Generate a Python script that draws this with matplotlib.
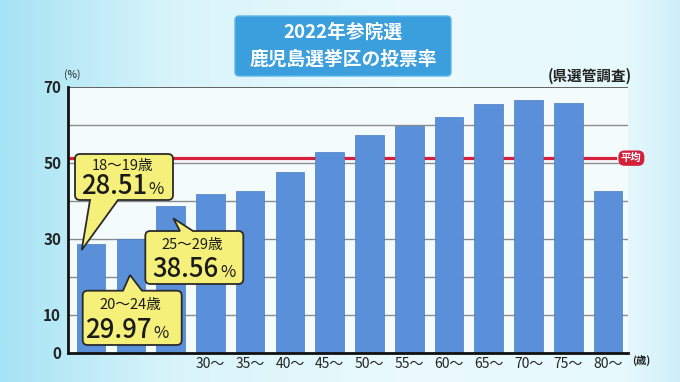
import matplotlib
matplotlib.use("Agg")
import matplotlib.pyplot as plt
import numpy as np
from matplotlib.patches import FancyBboxPatch, PathPatch
from matplotlib.path import Path
from matplotlib.transforms import Affine2D
from matplotlib.colors import LinearSegmentedColormap

plt.rcParams['font.family'] = ['Noto Sans CJK JP', 'DejaVu Sans']

# 年代別投票率 (%)
grupos = ["18〜19", "20〜24", "25〜29", "30〜", "35〜", "40〜", "45〜", "50〜",
          "55〜", "60〜", "65〜", "70〜", "75〜", "80〜"]
taxas = [28.51, 29.97, 38.56, 41.8, 42.6, 47.5, 52.8, 57.2,
         59.7, 62.0, 65.4, 66.6, 65.6, 42.6]
media = 51.2
rotulos_x = ["", "", "", "30〜", "35〜", "40〜", "45〜", "50〜",
             "55〜", "60〜", "65〜", "70〜", "75〜", "80〜"]
ticks_y = [0, 10, 20, 30, 40, 50, 60, 70]
rotulos_y = ["0", "10", "", "30", "", "50", "", "70"]

W, H = 680, 382
fig = plt.figure(figsize=(W / 100, H / 100), dpi=100)

# fundo em gradiente
bg = fig.add_axes([0, 0, 1, 1])
bg.set_zorder(-5)
cmap = LinearSegmentedColormap.from_list(
    "bg", [(0, "#a6e3f4"), (0.25, "#d8f4fa"), (0.6, "#eafafd"), (0.92, "#e6f9fc"), (1, "#cfeff8")])
grad = np.tile(np.linspace(0, 1, 256), (40, 1))
bg.imshow(grad, cmap=cmap, aspect="auto", extent=[0, 1, 0, 1])
bg.axis("off")

# transformacao em pixels da imagem (y para baixo)
px = Affine2D().scale(1 / W, -1 / H).translate(0, 1) + fig.transFigure

ax = fig.add_axes([68 / W, 1 - 352.7 / H, 560 / W, 266 / H])
ax.set_facecolor("#f4fbfd")
x = np.arange(len(grupos))

for v in ticks_y[1:-1]:
    ax.axhline(v, color="#8c8c8c", lw=1, zorder=1)
ax.axhline(70, color="#555555", lw=1.3, zorder=1)
ax.axhline(media, xmin=0, xmax=0.977, color="#d8203c", lw=2.3, zorder=1.5)

ax.bar(x, taxas, width=0.72, color="#5a8fd9", edgecolor="#4a7cc2", lw=0.5, zorder=2)

ax.set_xlim(-0.58, 13.5)
ax.set_ylim(0, 70)
ax.set_xticks(x)
ax.set_xticklabels(rotulos_x, fontsize=10, color="#222222")
ax.set_yticks(ticks_y)
ax.set_yticklabels(rotulos_y, fontsize=11, fontweight="bold", color="#222222")
ax.tick_params(length=0)
ax.tick_params(axis="x", pad=3)
ax.tick_params(axis="y", pad=5)
for s in ["top", "right"]:
    ax.spines[s].set_visible(False)
ax.spines["left"].set_linewidth(2)
ax.spines["bottom"].set_linewidth(2)
ax.spines["left"].set_color("#111111")
ax.spines["bottom"].set_color("#111111")

ax.text(1.006, media, "平均", transform=ax.get_yaxis_transform(), ha="center", va="center",
        fontsize=7.5, fontweight="bold", color="white",
        bbox=dict(boxstyle="round,pad=0.25,rounding_size=0.6", fc="#d41f3a", ec="none"))

# textos soltos
fig.text(72, 75, "(%)", transform=px, fontsize=7.5, ha="center", va="center", color="#222222")
fig.text(641, 360, "(歳)", transform=px, fontsize=7.5, fontweight="bold", ha="center", va="center", color="#222222")
fig.text(632, 75.5, "(県選管調査)", transform=px, fontsize=10.5, fontweight="bold", ha="right", va="center", color="#222222")

# titulo
fig.patches.append(FancyBboxPatch((235, 16), 216, 60, boxstyle="round,pad=0,rounding_size=4",
                                  fc="#3b9fde", ec="#5cb6ea", lw=1, transform=px, figure=fig))
fig.text(343, 32.5, "2022年参院選", transform=px, fontsize=13.5, fontweight="bold",
         color="white", ha="center", va="center")
fig.text(343, 59, "鹿児島選挙区の投票率", transform=px, fontsize=13.5, fontweight="bold",
         color="white", ha="center", va="center")


def balao(x0, y0, x1, y1, lado, xa, xb, ponta, r=5):
    v, c = [], []

    def ln(p):
        v.append(p)
        c.append(Path.LINETO)

    def cv(q, p):
        v.extend([q, p])
        c.extend([Path.CURVE3, Path.CURVE3])

    v.append((x0 + r, y0))
    c.append(Path.MOVETO)
    if lado == "top":
        ln((xa, y0)); ln(ponta); ln((xb, y0))
    ln((x1 - r, y0)); cv((x1, y0), (x1, y0 + r))
    ln((x1, y1 - r)); cv((x1, y1), (x1 - r, y1))
    if lado == "bottom":
        ln((xb, y1)); ln(ponta); ln((xa, y1))
    ln((x0 + r, y1)); cv((x0, y1), (x0, y1 - r))
    ln((x0, y0 + r)); cv((x0, y0), (x0 + r, y0))
    v.append((x0 + r, y0))
    c.append(Path.CLOSEPOLY)
    fig.patches.append(PathPatch(Path(v, c), fc="#f5f07a", ec="#2a2a2a", lw=1.3,
                                 transform=px, figure=fig, zorder=5))


def texto_balao(cx, y_idade, x_num, y_num, idade, valor):
    fig.text(cx, y_idade, idade + "歳", transform=px, fontsize=10.5, ha="center", va="center",
             color="#1a1a1a", zorder=6)
    fig.text(x_num, y_num, f"{valor:.2f}", transform=px, fontsize=18.5, fontweight="medium",
             ha="right", va="baseline", color="#1a1a1a", zorder=6)
    fig.text(x_num + 1.5, y_num, "%", transform=px, fontsize=12, ha="left", va="baseline",
             color="#1a1a1a", zorder=6)


balao(75, 154, 173, 200, "bottom", 90, 118, (81.7, 250))
texto_balao(123, 166, 147, 194, grupos[0], taxas[0])

balao(82.7, 290.7, 181.7, 345, "top", 123, 142, (130, 275))
texto_balao(130, 305, 152, 337.5, grupos[1], taxas[1])

balao(145.3, 231, 243.3, 284, "top", 180, 193, (173.3, 218.3))
texto_balao(192, 245.5, 218.5, 277, grupos[2], taxas[2])

fig.savefig("out.png", dpi=100)
